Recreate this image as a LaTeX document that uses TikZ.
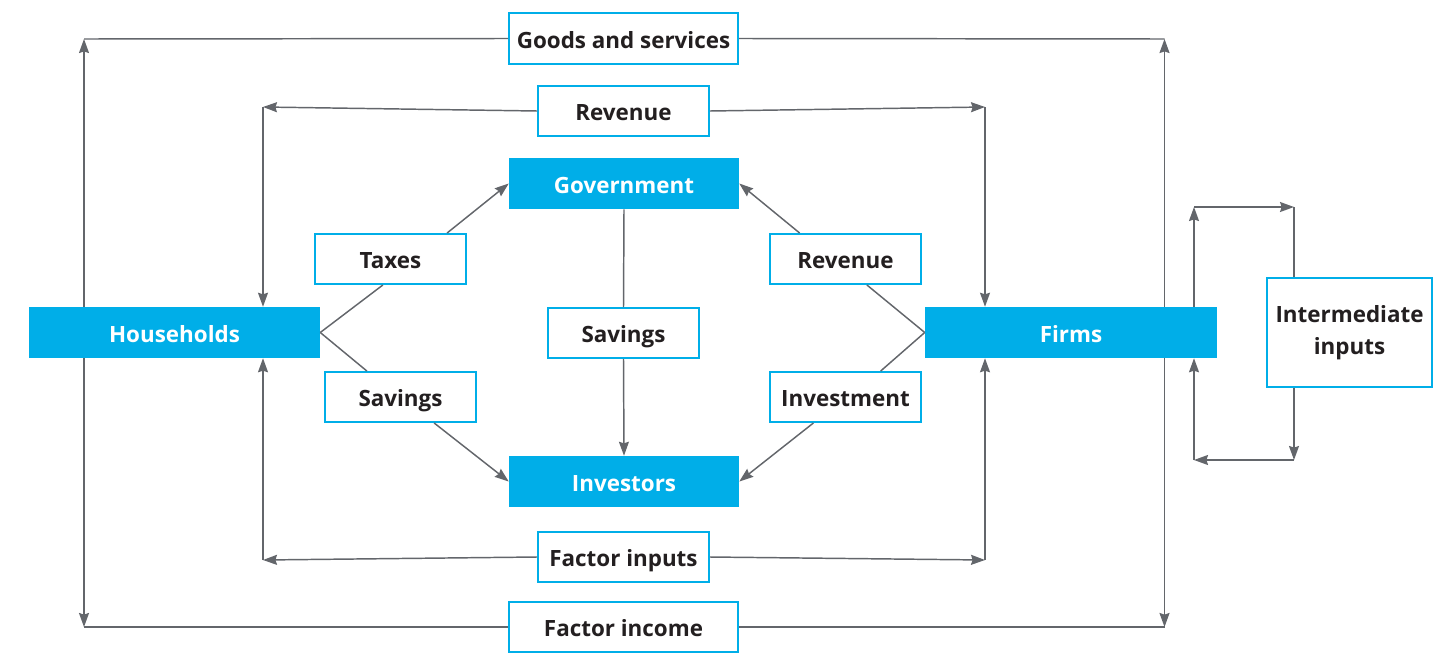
\documentclass[tikz,border=0pt]{standalone}
\usepackage{fontspec}
\setmainfont{Open Sans}
\usetikzlibrary{arrows.meta,calc}
\definecolor{cyanb}{HTML}{00AEE8}
\definecolor{arrg}{HTML}{63666B}
\definecolor{txt}{HTML}{231F20}
\begin{document}
\begin{tikzpicture}[x=0.75pt,y=-0.75pt,
  lbl/.style={draw=cyanb,line width=1.5pt,fill=white,inner sep=0pt,text=txt,font=\fontsize{16.8}{24}\selectfont\bfseries,align=center},
  oneline/.style={text height=17.5pt,text depth=3pt},
  actor/.style={fill=cyanb,inner sep=0pt,text=white,font=\fontsize{16.8}{24}\selectfont\bfseries,oneline},
  ln/.style={draw=arrg,line width=1.1pt},
  arr/.style={ln,-{Stealth[length=10.5pt,width=7.5pt,inset=1.2pt]}}]
\useasboundingbox (0,0) rectangle (1445,653);
% actors
\node[actor,minimum width=291*0.75pt,minimum height=51*0.75pt] (hh) at (174.5,332.5) {Households};
\node[actor,minimum width=292*0.75pt,minimum height=51*0.75pt] (fi) at (1071,332.5) {Firms};
\node[actor,minimum width=230*0.75pt,minimum height=51*0.75pt] (gov) at (624,183.5) {Government};
\node[actor,minimum width=230*0.75pt,minimum height=51*0.75pt] (inv) at (624,481.5) {Investors};
% labels
\node[lbl,oneline,minimum width=229*0.75pt,minimum height=51*0.75pt] (gs) at (623.5,38.5) {Goods and services};
\node[lbl,oneline,minimum width=171*0.75pt,minimum height=50*0.75pt] (rvT) at (623.5,111) {Revenue};
\node[lbl,oneline,minimum width=151*0.75pt,minimum height=50*0.75pt] (tx) at (390.5,259) {Taxes};
\node[lbl,oneline,minimum width=151*0.75pt,minimum height=50*0.75pt] (rvR) at (845.5,259) {Revenue};
\node[lbl,oneline,minimum width=151*0.75pt,minimum height=50*0.75pt] (svC) at (623.5,333) {Savings};
\node[lbl,oneline,minimum width=151*0.75pt,minimum height=50*0.75pt] (svL) at (400.5,397) {Savings};
\node[lbl,oneline,minimum width=151*0.75pt,minimum height=50*0.75pt] (ivt) at (845.5,397) {Investment};
\node[lbl,oneline,minimum width=171*0.75pt,minimum height=50*0.75pt] (fin) at (623.5,557) {Factor inputs};
\node[lbl,oneline,minimum width=229*0.75pt,minimum height=50*0.75pt] (fic) at (623.5,627) {Factor income};
\node[lbl,minimum width=165*0.75pt,minimum height=109*0.75pt] (ii) at (1349.5,332.5) {Intermediate\\inputs};
% corners
\coordinate (gsL) at (84,39);
\coordinate (gsR) at (1164.5,39);
\coordinate (rvL) at (263,107);
\coordinate (rvRc) at (985,107);
\coordinate (fnL) at (263,560);
\coordinate (fnR) at (985,560);
\coordinate (fcL) at (84,627);
\coordinate (fcR) at (1164.5,627);
\coordinate (iiA) at (1194,207);
\coordinate (iiB) at (1294,207);
\coordinate (iiC) at (1294,460);
\coordinate (iiD) at (1194,460);
% outer loops
\draw[arr] (hh.north -| gsL) -- (gsL);
\draw[ln] (gsL) -- (gs.west);
\draw[arr] (fi.north -| gsR) -- (gsR);
\draw[ln] (gsR) -- (gs.east);
\draw[arr] (rvT.west) -- (rvL);
\draw[arr] (rvL) -- (hh.north -| rvL);
\draw[arr] (rvT.east) -- (rvRc);
\draw[arr] (rvRc) -- (fi.north -| rvRc);
\draw[arr] (fin.west) -- (fnL);
\draw[arr] (fnL) -- (hh.south -| fnL);
\draw[arr] (fin.east) -- (fnR);
\draw[arr] (fnR) -- (fi.south -| fnR);
\draw[arr] (hh.south -| fcL) -- (fcL);
\draw[ln] (fcL) -- (fic.west);
\draw[arr] (fi.south -| fcR) -- (fcR);
\draw[ln] (fcR) -- (fic.east);
% intermediate loop
\draw[arr] (fi.north -| iiA) -- (iiA);
\draw[arr] (iiA) -- (iiB);
\draw[ln] (iiB) -- (ii.north -| iiB);
\draw[arr] (ii.south -| iiC) -- (iiC);
\draw[arr] (iiC) -- (iiD);
\draw[arr] (iiD) -- (fi.south -| iiD);
% inner diagonals
\draw[ln] (hh.east) -- ($(tx.south west)!0.45!(tx.south east)$);
\draw[arr] ($(tx.north west)!0.87!(tx.north east)$) -- (gov.west);
\draw[ln] (hh.east) -- ($(svL.north west)!0.28!(svL.north east)$);
\draw[arr] ($(svL.south west)!0.72!(svL.south east)$) -- (inv.west);
\draw[ln] (gov.south) -- (svC.north);
\draw[arr] (svC.south) -- (inv.north);
\draw[ln] (fi.west) -- ($(rvR.south west)!0.64!(rvR.south east)$);
\draw[arr] ($(rvR.north west)!0.2!(rvR.north east)$) -- (gov.east);
\draw[ln] (fi.west) -- ($(ivt.north west)!0.73!(ivt.north east)$);
\draw[arr] ($(ivt.south west)!0.29!(ivt.south east)$) -- (inv.east);
\end{tikzpicture}
\end{document}
